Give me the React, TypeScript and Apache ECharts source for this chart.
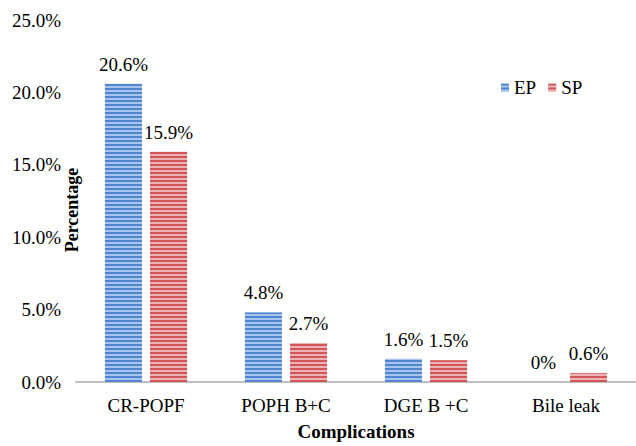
import React, { useEffect, useRef } from "react";
import * as echarts from "echarts";

const categories = ["CR-POPF", "POPH B+C", "DGE B +C", "Bile leak"];
const epValues = [20.6, 4.8, 1.6, 0];
const spValues = [15.9, 2.7, 1.5, 0.6];
const yTicks = { min: 0, max: 25, interval: 5 };

const FONT = "Times New Roman, Liberation Serif, serif";
const FS = 19;

function fmtLabel(v: number) {
  return v === 0 ? "0%" : v.toFixed(1) + "%";
}

export default function App() {
  const ref = useRef<HTMLDivElement>(null);
  useEffect(() => {
    document.body.style.margin = "0";
    const chart = echarts.init(ref.current!, undefined, { renderer: "svg" });
    const stripe = (color: string) => ({
      symbol: "rect",
      symbolSize: 1,
      dashArrayX: [10, 0],
      dashArrayY: [1.5, 1.5],
      rotation: 0,
      color,
    });
    const lbl = {
      show: true,
      position: "top",
      distance: 10,
      fontFamily: FONT,
      fontSize: FS,
      color: "#000",
      formatter: (p: any) => fmtLabel(p.value),
    };
    chart.setOption({
      animation: false,
      backgroundColor: "#ffffff",
      textStyle: { fontFamily: FONT },
      grid: { left: 76, right: -5, top: 20, bottom: 60 },
      legend: {
        left: 496,
        top: 73,
        itemWidth: 8,
        itemHeight: 8,
        itemGap: 12,
        icon: "rect",
        textStyle: { fontFamily: FONT, fontSize: FS, color: "#000" },
        data: ["EP", "SP"],
      },
      xAxis: {
        type: "category",
        data: categories,
        axisLine: { show: true, lineStyle: { color: "#bfbfbf", width: 2 } },
        axisTick: { show: false },
        axisLabel: { fontFamily: FONT, fontSize: FS, color: "#000", margin: 14 },
        name: "Complications",
        nameLocation: "middle",
        nameGap: 40,
        nameTextStyle: { fontFamily: FONT, fontSize: FS, fontWeight: "bold", color: "#000" },
      },
      yAxis: {
        type: "value",
        min: yTicks.min,
        max: yTicks.max,
        interval: yTicks.interval,
        axisLine: { show: false },
        axisTick: { show: false },
        splitLine: { show: false },
        axisLabel: {
          fontFamily: FONT,
          fontSize: FS,
          color: "#000",
          margin: 15,
          formatter: (v: number) => v.toFixed(1) + "%",
        },
      },
      graphic: [
        {
          type: "text",
          x: 72,
          y: 210,
          rotation: Math.PI / 2,
          style: {
            text: "Percentage",
            fontFamily: FONT,
            fontSize: 18,
            fontWeight: "bold",
            fill: "#000",
            align: "center",
            verticalAlign: "middle",
          },
        },
      ],
      series: [
        {
          name: "EP",
          type: "bar",
          data: epValues,
          barWidth: 37,
          barGap: "22%",
          itemStyle: { color: "#a9c4ec", decal: stripe("#5086d0") },
          label: lbl,
        },
        {
          name: "SP",
          type: "bar",
          data: spValues,
          barWidth: 37,
          itemStyle: { color: "#f0b2b2", decal: stripe("#d0575b") },
          label: lbl,
        },
      ],
    });
    return () => chart.dispose();
  }, []);
  return <div ref={ref} style={{ width: 636, height: 446 }} />;
}
